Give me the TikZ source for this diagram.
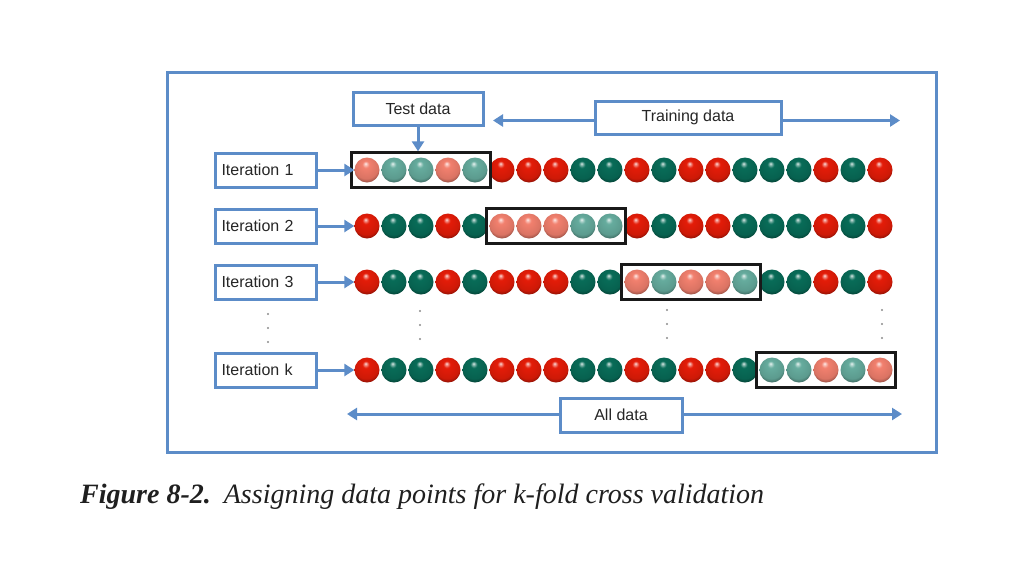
\documentclass[tikz,border=0pt]{standalone}
\usepackage{fontspec}
\newfontfamily\labfont{Liberation Sans}
\newfontfamily\capfont{Liberation Serif}
\usetikzlibrary{arrows.meta,fit}
\definecolor{frameblue}{RGB}{92,140,200}
\definecolor{cR}{RGB}{228,28,8}
\definecolor{cG}{RGB}{8,108,88}
\definecolor{cLR}{RGB}{242,128,110}
\definecolor{cLG}{RGB}{102,172,158}
\newcommand\defball[2]{\pgfdeclareradialshading{#1}{\pgfqpoint{-3bp}{13bp}}{color(0bp)=(#2!15!white); color(3bp)=(#2!55!white); color(7bp)=(#2); color(24bp)=(#2!90!black); color(32bp)=(#2!55!black); color(50bp)=(#2!40!black)}}
\defball{ballR}{cR}
\defball{ballG}{cG}
\defball{ballLR}{cLR}
\defball{ballLG}{cLG}
\tikzset{
  ballnode/.style={circle,minimum size=25pt,inner sep=0pt},
  testbox/.style={draw=black!90,line width=3pt,inner xsep=3pt,inner ysep=4.5pt},
  labbox/.style={draw=frameblue,line width=3pt,fill=white,font=\labfont\fontsize{16}{18}\selectfont,text=black!85},
  itbox/.style={labbox,text width=89pt,inner xsep=6pt,minimum height=34pt,align=left},
  blarrow/.style={draw=frameblue,line width=3pt,-{Triangle[length=10pt,width=12pt]}},
  dotmark/.style={fill=black!45}
}
\begin{document}
\begin{tikzpicture}[x=1pt,y=-1pt]
\useasboundingbox (0,0) rectangle (1024,576);
\fill[white] (0,0) rectangle (1024,576);
% outer frame
\draw[frameblue,line width=3pt] (167,72) rectangle (936,452);
% rows of balls
\foreach \r/\y/\s in {1/170/1, 2/226/6, 3/282/11, k/370/16} {
  \foreach \c [count=\i] in {R,G,G,R,G,R,R,R,G,G,R,G,R,R,G,G,G,R,G,R} {
    \pgfmathtruncatemacro\xx{367+27*(\i-1)}
    \pgfmathtruncatemacro\intest{and(\i>=\s,\i<=\s+4)}
    \ifnum\intest=1 \def\sh{ballL\c}\else\def\sh{ball\c}\fi
    \node[ballnode,shading=\sh] (b\r-\i) at (\xx,\y) {};
  }
  \pgfmathtruncatemacro\e{\s+4}
  \node[testbox,fit=(b\r-\s)(b\r-\e)] (t\r) {};
  \node[itbox,anchor=west] (it\r) at (214,\y) {Iteration \r};
  \draw[blarrow] (it\r) -- (b\r-1);
}
% test data label
\node[labbox,minimum width=130pt,minimum height=33pt] (testlab) at (418,108.5) {Test data};
\draw[blarrow] (testlab.south) -- (testlab.south |- t1.north);
% training data
\node[labbox,minimum width=186pt,minimum height=33pt] (trainlab) at (688,117.5) {Training data};
\coordinate (trL) at (493,120.5);
\coordinate (trR) at (900,120.5);
\draw[blarrow] (trainlab.west |- trL) -- (trL);
\draw[blarrow] (trainlab.east |- trR) -- (trR);
% all data
\node[labbox,minimum width=122pt,minimum height=34pt] (alllab) at (621,415) {All data};
\coordinate (adL) at (347,414);
\coordinate (adR) at (902,414);
\draw[blarrow] (alllab.west |- adL) -- (adL);
\draw[blarrow] (alllab.east |- adR) -- (adR);
% vertical ellipsis dots
\foreach \xx/\yy in {268/314,268/328,268/342,420/311,420/325,420/339,667/310,667/324,667/338,882/310,882/324,882/338}
  \fill[dotmark] (\xx,\yy) circle (1.2pt);
% caption
\node[anchor=base west,inner sep=0pt,font=\capfont\fontsize{28}{32}\selectfont,text=black!88] (cap) at (80,503)
  {\textbf{\textit{Figure 8-2.}}\hspace{13pt}\textit{Assigning data points for k-fold cross validation}};
\end{tikzpicture}
\end{document}
